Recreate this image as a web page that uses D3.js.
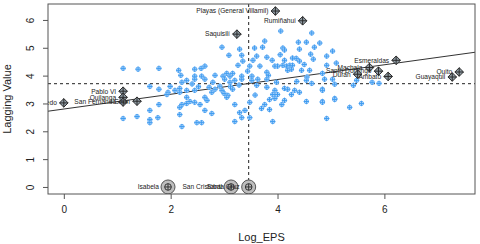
<!DOCTYPE html>
<html>
<head>
<meta charset="utf-8">
<script src="https://cdn.jsdelivr.net/npm/d3@7"></script>
<style>
body { margin: 0; background: #fff; }
text { font-family: "Liberation Sans", Arial, sans-serif; }
</style>
</head>
<body>
<script>
// regular municipalities (Log_EPS, spatial lag)
var blueX = [4.06,4.64,3.76,4.39,4.54,4.79,3.72,4.10,4.13,4.41,4.69,3.80,4.28,4.62,4.67,4.92,5.10,4.92,4.13,3.95,
	4.00,4.10,4.17,4.23,4.28,4.26,4.19,4.41,4.45,4.60,3.83,3.80,3.67,4.84,5.03,5.07,4.84,5.07,4.84,5.35,
	5.57,4.92,5.42,5.48,5.77,5.90,2.96,3.29,3.09,3.33,3.35,3.57,3.61,3.26,3.54,2.64,2.57,2.45,2.19,2.45,
	2.58,2.83,2.98,3.05,3.11,3.16,3.33,3.44,3.52,3.48,1.11,1.39,1.78,2.15,1.61,1.78,1.95,2.08,2.17,1.78,
	1.61,1.61,1.61,1.76,1.11,1.37,2.17,2.17,2.21,2.30,2.45,2.64,2.79,3.01,3.11,3.20,3.33,3.52,3.63,2.17,
	2.30,2.45,2.64,2.68,2.77,2.83,2.96,3.16,3.00,3.07,3.05,2.30,2.30,2.36,2.45,2.55,2.21,3.20,3.48,3.39,
	3.29,3.33,3.48,3.20,2.64,2.77,2.49,2.58,3.61,3.80,3.98,4.36,4.54,4.64,4.88,5.03,3.80,3.95,4.13,4.19,
	4.32,4.41,4.84,3.91,4.00,4.26,3.85,3.95,4.13,4.54,4.84,5.07,3.76,3.70,3.85,4.08,3.91,1.99,1.93,2.21,
	2.52,2.72,2.92,3.12,3.28,2.40,3.58,4.50,4.35,4.05,3.90,4.55];
var blueY = [5.60,5.53,5.24,5.20,5.20,5.17,5.02,4.99,4.92,4.95,5.02,4.66,4.63,4.77,4.59,4.70,4.45,4.37,4.55,4.34,
	4.34,4.37,4.34,4.37,4.37,4.23,4.19,4.52,4.19,4.19,4.01,4.12,4.34,4.08,4.88,3.69,3.51,3.18,3.07,2.86,
	3.00,2.46,3.65,3.83,3.76,3.72,5.02,4.95,4.73,4.73,4.52,4.99,4.70,4.37,4.55,4.34,4.26,4.23,4.01,3.98,
	3.98,4.01,3.98,4.08,3.98,4.08,3.98,4.16,3.98,4.34,4.26,4.23,4.26,4.19,3.61,3.51,3.40,3.47,3.54,2.96,
	2.75,2.42,2.31,2.49,2.46,2.53,2.86,2.60,3.76,3.83,3.87,3.87,3.76,3.87,3.76,3.83,3.87,3.83,3.87,3.40,
	3.47,3.47,3.22,3.11,3.40,3.51,3.47,3.51,3.36,3.29,3.22,3.22,3.00,3.07,3.04,2.96,2.96,2.96,3.04,2.75,
	2.67,2.49,2.49,2.35,2.75,2.64,2.31,2.31,3.65,3.87,3.76,3.79,3.83,3.72,3.87,3.87,3.58,3.47,3.54,3.51,
	3.47,3.40,3.47,3.32,3.32,3.32,3.14,3.18,3.11,3.07,3.04,3.14,2.96,2.82,2.78,2.96,2.35,3.61,3.32,2.17,
	3.60,3.58,3.62,3.60,3.66,3.70,3.30,4.40,4.62,4.75,4.55,3.95];

// influential points (labelled)
var inflNames = ["Playas (General Villamil)", "Rumiñahui", "Saquisilí", "Esmeraldas", "Machala",
	"Santo Domingo", "Durán", "Ambato", "Quito", "Guayaquil", "Olmedo", "Pablo VI", "Quilanga",
	"San Fernando", "Girón"];
var inflX = [3.96, 4.47, 3.24, 6.22, 5.72, 5.89, 5.50, 6.07, 7.40, 7.27, 0.00, 1.11, 1.11, 1.11, 1.37];
var inflY = [6.32, 5.97, 5.49, 4.55, 4.29, 4.16, 4.05, 3.97, 4.13, 3.95, 3.02, 3.44, 3.22, 3.05, 3.08];

// islands, no neighbours -> lag 0
var zeroNames = ["Isabela", "San Cristóbal", "Santa Cruz"];
var zeroX = [1.95, 3.13, 3.46];
var zeroY = [0, 0, 0];

var xTicks = [0, 2, 4, 6];
var yTicks = [0, 1, 2, 3, 4, 5, 6];
var meanX = 3.46, meanY = 3.71;
var fitA = 2.80, fitB = 0.265;

var W = 480, H = 244;
var m = {top: 4, right: 5, bottom: 50, left: 48};

var allX = blueX.concat(inflX, zeroX), allY = blueY.concat(inflY, zeroY);
// R style 4% padding
function pad(ext) { var d = ext[1] - ext[0]; return [ext[0] - 0.04 * d, ext[1] + 0.04 * d]; }

var x = d3.scaleLinear().domain(pad(d3.extent(allX))).range([m.left, W - m.right]);
var y = d3.scaleLinear().domain(pad(d3.extent(allY))).range([H - m.bottom, m.top]);

var svg = d3.select("body").append("svg").attr("width", W).attr("height", H);

svg.append("clipPath").attr("id", "plotclip").append("rect")
	.attr("x", m.left).attr("y", m.top)
	.attr("width", W - m.left - m.right).attr("height", H - m.top - m.bottom);

var plot = svg.append("g").attr("clip-path", "url(#plotclip)");

// mean lines
plot.append("line")
	.attr("x1", x(meanX)).attr("x2", x(meanX)).attr("y1", m.top).attr("y2", H - m.bottom)
	.attr("stroke", "#222").attr("stroke-dasharray", "3,3");
plot.append("line")
	.attr("x1", m.left).attr("x2", W - m.right).attr("y1", y(meanY)).attr("y2", y(meanY))
	.attr("stroke", "#222").attr("stroke-dasharray", "3,3");

// regression line
var xd = x.domain();
plot.append("line")
	.attr("x1", x(xd[0])).attr("y1", y(fitA + fitB * xd[0]))
	.attr("x2", x(xd[1])).attr("y2", y(fitA + fitB * xd[1]))
	.attr("stroke", "#333").attr("stroke-width", 1);

// blue points
var blue = plot.selectAll(".pt").data(d3.range(blueX.length)).enter().append("g")
	.attr("transform", function(i) { return "translate(" + x(blueX[i]) + "," + y(blueY[i]) + ")"; });
blue.append("circle").attr("r", 2.2).attr("fill", "#c4e0fc").attr("stroke", "#62acf3").attr("stroke-width", 0.9);
blue.append("path").attr("d", "M-2.6,0H2.6M0,-2.6V2.6").attr("stroke", "#3f9cf0").attr("stroke-width", 1);

// zero-lag points
var zero = plot.selectAll(".zr").data(d3.range(zeroX.length)).enter().append("g")
	.attr("transform", function(i) { return "translate(" + x(zeroX[i]) + "," + y(zeroY[i]) + ")"; });
zero.append("circle").attr("r", 7).attr("fill", "#bdbdbd").attr("stroke", "#555");
zero.append("circle").attr("r", 3.3).attr("fill", "none").attr("stroke", "#333");
zero.append("path").attr("d", "M-3.3,0H3.3M0,-3.3V3.3").attr("stroke", "#333");
zero.append("text").attr("x", -9).attr("dy", "0.35em").attr("text-anchor", "end")
	.attr("font-size", 6.6).attr("fill", "#222").text(function(i) { return zeroNames[i]; });

// influential points
var infl = plot.selectAll(".inf").data(d3.range(inflX.length)).enter().append("g")
	.attr("transform", function(i) { return "translate(" + x(inflX[i]) + "," + y(inflY[i]) + ")"; });
infl.append("path").attr("d", "M0,-4.3L4.3,0L0,4.3L-4.3,0Z").attr("fill", "#8f9ca5").attr("stroke", "#2b2b2b");
infl.append("path").attr("d", "M-4.3,0H4.3M0,-4.3V4.3").attr("stroke", "#2b2b2b");
infl.append("text").attr("x", -7).attr("dy", "0.35em").attr("text-anchor", "end")
	.attr("font-size", 6.6).attr("fill", "#222").text(function(i) { return inflNames[i]; });

// box
svg.append("rect").attr("x", m.left).attr("y", m.top)
	.attr("width", W - m.left - m.right).attr("height", H - m.top - m.bottom)
	.attr("fill", "none").attr("stroke", "#555");

// axes
var xAxis = svg.append("g").attr("transform", "translate(0," + (H - m.bottom) + ")")
	.call(d3.axisBottom(x).tickValues(xTicks).tickSize(5).tickPadding(7).tickFormat(d3.format("d")));
xAxis.select(".domain").remove();
xAxis.selectAll("line").attr("stroke", "#555");
xAxis.selectAll("text").attr("font-size", 10).attr("fill", "#222")
	.style("font-family", "'Liberation Sans', Arial, sans-serif");

var yAxis = svg.append("g").attr("transform", "translate(" + m.left + ",0)")
	.call(d3.axisLeft(y).tickValues(yTicks).tickSize(5).tickFormat(d3.format("d")));
yAxis.select(".domain").remove();
yAxis.selectAll("line").attr("stroke", "#555");
yAxis.selectAll("text").attr("font-size", 10).attr("fill", "#222")
	.attr("x", null).attr("dy", null).attr("text-anchor", "middle")
	.attr("transform", "translate(-14,0) rotate(-90)")
	.style("font-family", "'Liberation Sans', Arial, sans-serif");

// axis titles
svg.append("text").attr("x", (m.left + W - m.right) / 2).attr("y", 241)
	.attr("text-anchor", "middle").attr("font-size", 11).attr("fill", "#222").text("Log_EPS");
svg.append("text").attr("transform", "translate(11," + ((m.top + H - m.bottom) / 2) + ") rotate(-90)")
	.attr("text-anchor", "middle").attr("font-size", 11).attr("fill", "#222").text("Lagging Value");
</script>
</body>
</html>
